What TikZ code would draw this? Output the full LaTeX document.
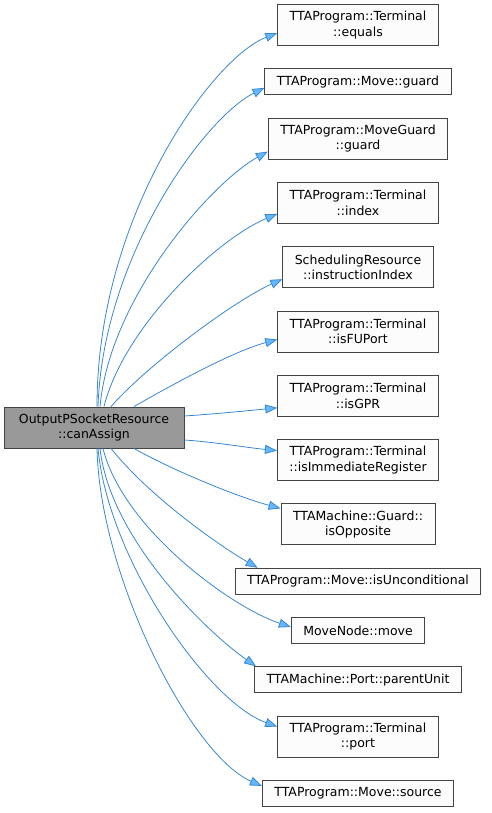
\documentclass[tikz,border=0pt]{standalone}
\usepackage{fontspec}
\setmainfont{DejaVu Sans}
\usepackage{tikz}
\usetikzlibrary{arrows.meta,positioning}
\definecolor{edgeblue}{RGB}{55,135,210}
\definecolor{tipblue}{RGB}{99,184,255}
\definecolor{rootgray}{RGB}{153,153,153}
\definecolor{boxline}{RGB}{68,68,68}
\definecolor{boxfill}{RGB}{251,252,251}

\begin{document}
\begin{tikzpicture}[x=1pt,y=1pt,node distance=22.4pt,
      fn/.style={draw=boxline,fill=boxfill,line width=0.9pt,align=center,
        inner xsep=12pt,inner ysep=2pt,minimum height=26pt,
        font=\fontsize{12.5}{15.5}\selectfont},
      fntwo/.style={fn,minimum height=41pt},
      root/.style={fntwo,fill=rootgray,minimum width=180pt},
      arr/.style={-{Triangle[length=12pt,width=9pt,fill=tipblue]},edgeblue,line width=0.8pt}]
    \useasboundingbox (0,0) rectangle (491,-813);
    \node[root] (src) at (94,-427.5) {OutputPSocketResource\\::canAssign};
    \node[fntwo] (eq) at (358,-25) {TTAProgram::Terminal\\::equals};
    \node[fn,below=of eq] (mvguard) {TTAProgram::Move::guard};
    \node[fntwo,below=of mvguard] (mgguard) {TTAProgram::MoveGuard\\::guard};
    \node[fntwo,below=of mgguard] (idx) {TTAProgram::Terminal\\::index};
    \node[fntwo,below=of idx] (instr) {SchedulingResource\\::instructionIndex};
    \node[fntwo,below=of instr] (fuport) {TTAProgram::Terminal\\::isFUPort};
    \node[fntwo,below=of fuport] (gpr) {TTAProgram::Terminal\\::isGPR};
    \node[fntwo,below=of gpr] (imm) {TTAProgram::Terminal\\::isImmediateRegister};
    \node[fntwo,below=of imm] (opp) {TTAMachine::Guard::\\isOpposite};
    \node[fn,below=of opp] (uncond) {TTAProgram::Move::isUnconditional};
    \node[fn,below=of uncond] (mv) {MoveNode::move};
    \node[fn,below=of mv] (pu) {TTAMachine::Port::parentUnit};
    \node[fntwo,below=of pu] (port) {TTAProgram::Terminal\\::port};
    \node[fn,below=of port] (srcmv) {TTAProgram::Move::source};
    \draw[arr] ([xshift=3pt]src.north) .. controls +(0,190) and +(-65,-25) .. ([yshift=-8pt]eq.west);
    \draw[arr] ([xshift=4pt]src.north) .. controls +(5,150) and +(-60,-30) .. ([yshift=-6pt]mvguard.west);
    \draw[arr] ([xshift=6pt]src.north) .. controls +(10,110) and +(-55,-30) .. ([yshift=-13pt]mgguard.west);
    \draw[arr] ([xshift=10pt]src.north) .. controls +(20,80) and +(-60,-25) .. ([yshift=-11pt]idx.west);
    \draw[arr] ([xshift=17pt]src.north) .. controls +(40,45) and +(-45,-20) .. ([yshift=-12pt]instr.west);
    \draw[arr] ([xshift=40pt]src.north) .. controls +(35,20) and +(-45,-12) .. ([yshift=-8pt]fuport.west);
    \draw[arr] ([yshift=11.5pt]src.east) .. controls +(30,2) and +(-30,-3) .. ([yshift=-12pt]gpr.west);
    \draw[arr] ([yshift=-12.5pt]src.east) .. controls +(30,-2) and +(-30,3) .. ([yshift=9.5pt]imm.west);
    \draw[arr] ([xshift=40pt]src.south) .. controls +(35,-20) and +(-45,12) .. ([yshift=16pt]opp.west);
    \draw[arr] ([xshift=17pt]src.south) .. controls +(40,-50) and +(-35,20) .. ([xshift=23pt]uncond.north west);
    \draw[arr] ([xshift=9pt]src.south) .. controls +(20,-80) and +(-60,20) .. ([yshift=3.5pt]mv.west);
    \draw[arr] ([xshift=6pt]src.south) .. controls +(10,-90) and +(-50,35) .. ([xshift=2pt]pu.north west);
    \draw[arr] ([xshift=4pt]src.south) .. controls +(10,-110) and +(-70,25) .. ([yshift=10pt]port.west);
    \draw[arr] ([xshift=3pt]src.south) .. controls +(3,-130) and +(-70,30) .. ([yshift=7.5pt]srcmv.west);
\end{tikzpicture}
\end{document}
